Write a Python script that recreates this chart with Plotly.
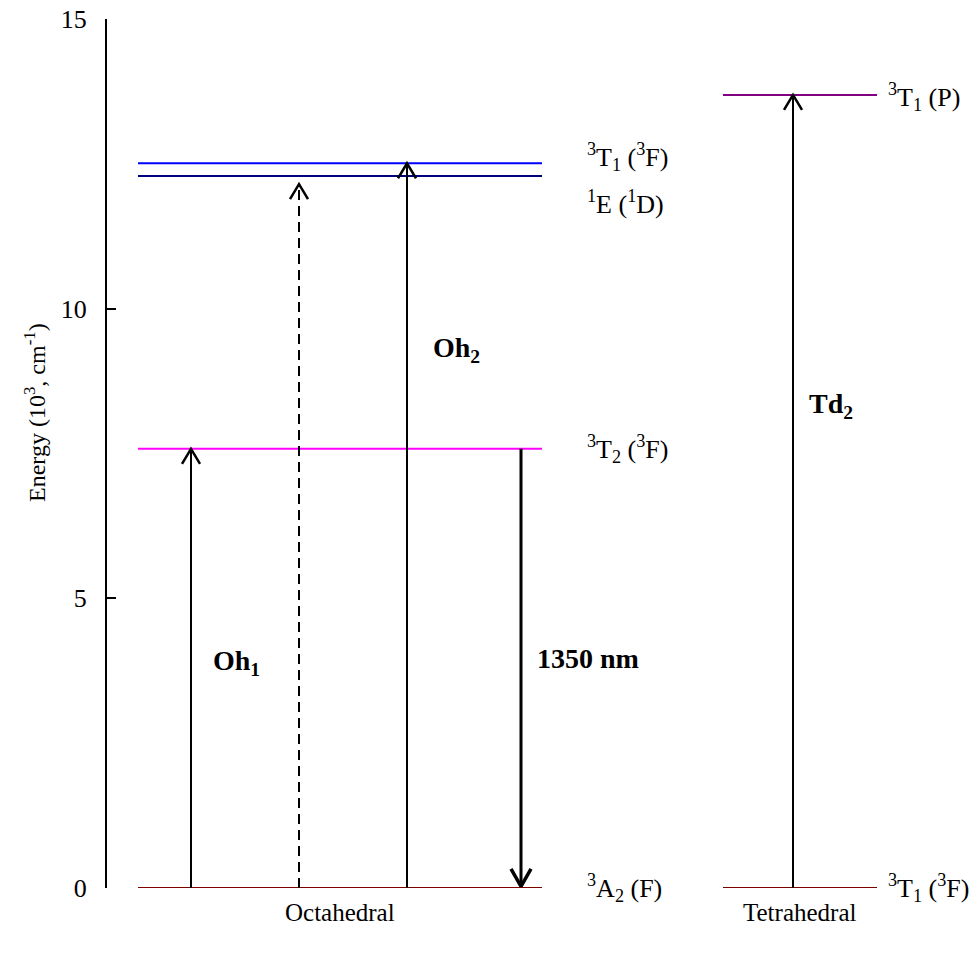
import plotly.graph_objects as go

# ---- data ----
oct_levels = ["3T1(3F)", "1E(1D)", "3T2(3F)", "3A2(F)"]
oct_energy = [12.51, 12.29, 7.58, 0.0]
oct_colors = ["#0000ff", "#000080", "#ff00ff", "#800000"]
oct_text = ["<sup>3</sup>T<sub>1</sub> (<sup>3</sup>F)", "<sup>1</sup>E (<sup>1</sup>D)",
            "<sup>3</sup>T<sub>2</sub> (<sup>3</sup>F)", "<sup>3</sup>A<sub>2</sub> (F)"]
oct_label_shift = [6, -26, 0, 0]

tet_levels = ["3T1(P)", "3T1(3F)"]
tet_energy = [13.69, 0.0]
tet_colors = ["#800080", "#800000"]
tet_text = ["<sup>3</sup>T<sub>1</sub> (P)", "<sup>3</sup>T<sub>1</sub> (<sup>3</sup>F)"]
tet_label_shift = [-2, 0]

# transitions
trans_names = ["Oh1", "Oh1b", "Oh2", "emission", "Td2"]
trans_x = [84, 192, 300, 414, 686]
trans_from = [0.0, 0.0, 0.0, 7.58, 0.0]
trans_to = [7.58, 12.15, 12.51, 0.03, 13.69]
trans_dash = ["solid", "dash", "solid", "solid", "solid"]
trans_width = [2, 2, 2, 3, 2]
trans_label = ["Oh<sub>1</sub>", None, "Oh<sub>2</sub>", "1350 nm", "Td<sub>2</sub>"]
trans_label_e = [3.9, None, 9.3, 3.97, 8.33]
trans_label_x = [104, None, 324, 428, 700]

groups = ["Octahedral", "Tetrahedral"]
group_x = [233, 693]
oct_span = [31, 435]
tet_span = [616, 770]
oct_label_x = 478
tet_label_x = 779

y_ticks = [0, 5, 10, 15]

FONT = "Liberation Serif, Times New Roman, serif"

fig = go.Figure()

def level(span, e, color):
    fig.add_trace(go.Scatter(x=[span[0], span[1]], y=[e, e], mode="lines",
                             line=dict(color=color, width=2), showlegend=False,
                             hoverinfo="skip"))

for e, c in zip(oct_energy, oct_colors):
    level(oct_span, e, c)
for e, c in zip(tet_energy, tet_colors):
    level(tet_span, e, c)

# arrows
for x, e0, e1, d, w in zip(trans_x, trans_from, trans_to, trans_dash, trans_width):
    sgn = 1 if e1 > e0 else -1
    hw = 9 if w == 2 else 10
    hl = 0.26 if w == 2 else 0.30
    fig.add_trace(go.Scatter(x=[x, x], y=[e0, e1 - sgn * 0.02], mode="lines",
                             line=dict(color="black", width=w, dash="solid" if d == "solid" else "10px,6px"),
                             showlegend=False, hoverinfo="skip"))
    fig.add_trace(go.Scatter(x=[x - hw, x, x + hw], y=[e1 - sgn * hl, e1, e1 - sgn * hl],
                             mode="lines", line=dict(color="black", width=w + 0.5),
                             showlegend=False, hoverinfo="skip"))

LBL = 26
ann = []
for e, t, s in zip(oct_energy, oct_text, oct_label_shift):
    ann.append(dict(x=oct_label_x, y=e, text=t, xanchor="left", yanchor="middle",
                    yshift=s, showarrow=False, font=dict(family=FONT, size=LBL, color="black")))
for e, t, s in zip(tet_energy, tet_text, tet_label_shift):
    ann.append(dict(x=tet_label_x, y=e, text=t, xanchor="left", yanchor="middle",
                    yshift=s, showarrow=False, font=dict(family=FONT, size=LBL, color="black")))
for lab, le, lx in zip(trans_label, trans_label_e, trans_label_x):
    if lab is None:
        continue
    ann.append(dict(x=lx, y=le, text="<b>" + lab + "</b>", xanchor="left", yanchor="middle",
                    showarrow=False, font=dict(family=FONT, size=28, color="black")))
for g, gx in zip(groups, group_x):
    ann.append(dict(x=gx, y=0, yref="paper", text=g, xanchor="center", yanchor="middle",
                    yshift=-24, showarrow=False, font=dict(family=FONT, size=25, color="black")))
# y axis title
ann.append(dict(x=0, xref="paper", xshift=-72, y=8.2, text="Energy (10<sup>3</sup>, cm<sup>-1</sup>)",
                textangle=-90, xanchor="center", yanchor="middle", showarrow=False,
                font=dict(family=FONT, size=24, color="black")))

fig.update_layout(
    width=979, height=953,
    margin=dict(l=107, r=0, t=19, b=65),
    paper_bgcolor="white", plot_bgcolor="white",
    annotations=ann,
    xaxis=dict(range=[0, 872], showline=False, showgrid=False, zeroline=False,
               showticklabels=False, ticks=""),
    yaxis=dict(range=[0, 15], showline=True, linecolor="black", linewidth=2,
               showgrid=False, zeroline=False, tickvals=y_ticks,
               ticks="inside", ticklen=9, tickwidth=2, tickcolor="black",
               ticklabelstandoff=13,
               tickfont=dict(family=FONT, size=26, color="black")),
)

fig.write_html("out.html")
